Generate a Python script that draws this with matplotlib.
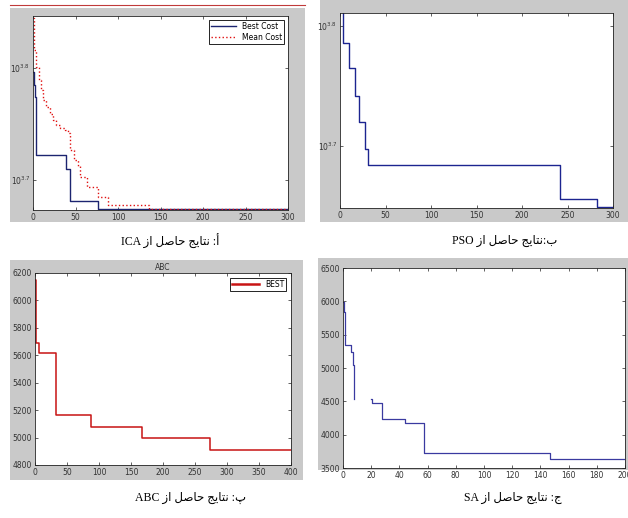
import matplotlib
matplotlib.use('Agg')
import matplotlib.pyplot as plt
from matplotlib.patches import Rectangle
from matplotlib.lines import Line2D
from matplotlib.ticker import NullLocator
import numpy as np

W, H = 628, 518

# ICA (log scale)
ica_it = [0, 1, 2, 3, 3.5, 39, 43, 77, 300]
ica_best = [6252, 6095, 5943, 5585, 5272, 5129, 4797, 4721, 4721]
ica_mean_it = [0, 1.2, 3.9, 7.1, 9.8, 11.8, 15.7, 19.6, 23.5, 27.5, 31.4, 37.3,
               41.2, 43.9, 47.8, 52.9, 54.9, 63.5, 77, 88, 137, 300]
ica_mean = [6981, 6541, 6322, 6152, 6026, 5902, 5821, 5741, 5662, 5610, 5572, 5553,
            5515, 5333, 5224, 5152, 5047, 4943, 4842, 4764, 4721, 4721]

# PSO (log scale)
pso_it = [2.5, 3.7, 10.2, 16.5, 20.5, 27.4, 30.4, 242.2, 282.5, 300]
pso_best = [6700, 6109, 5821, 5521, 5248, 4990, 4838, 4529, 4457, 4457]

# ABC
abc_it = [0, 1.6, 6.8, 32.8, 87.5, 166.7, 273.4, 400]
abc_best = [6150, 5690, 5620, 5165, 5075, 4995, 4912, 4912]

# SA (gap in the drawn line between ~8 and ~20)
sa_it = [0, 0.8, 1.3, 1.7, 6, 6.8, 7.6, 7.7, 19.6, 20.3, 28, 44, 57.3, 147, 200]
sa_best = [5990, 5840, 5465, 5345, 5240, 5040, 4540, np.nan, 4530, 4480, 4240, 4180,
           3720, 3630, 3630]

log_ticks = [10**3.7, 10**3.8]
log_labels = ['$10^{3.7}$', '$10^{3.8}$']

# captions, written in visual (left-to-right) order with joined letter forms
az = '\u0632\u0627'
hasel = '\uFEDE\uFEBB\uFE8E\uFEA3'
nataij = '\uFE9E\uFEF3\uFE8E\uFE98\uFEE7'
captions = [
    'ICA ' + az + ' ' + hasel + ' ' + nataij + ' :\u0623',
    'PSO ' + az + ' ' + hasel + ' ' + nataij + ':\u0628',
    'ABC ' + az + ' ' + hasel + ' ' + nataij + ' :\u067E',
    'SA ' + az + ' ' + hasel + ' ' + nataij + ' :\u062C',
]
caption_pos = [(170, 241), (505, 241), (191, 498), (513, 498)]

grey = '#c9c9c9'
fig = plt.figure(figsize=(W / 100, H / 100), dpi=100)
fig.patch.set_facecolor('white')


def px_rect(x0, y0, x1, y1):
    return [x0 / W, 1 - y1 / H, (x1 - x0) / W, (y1 - y0) / H]


def add_bg(x0, y0, x1, y1):
    l, b, w, h = px_rect(x0, y0, x1, y1)
    fig.patches.append(Rectangle((l, b), w, h, transform=fig.transFigure,
                                 facecolor=grey, edgecolor='none', zorder=-5))


def style(ax):
    ax.tick_params(direction='in', length=2.5, width=0.5, top=True, right=True,
                   labelsize=5.5, pad=2, colors='#333333')
    ax.tick_params(labelcolor='#333333', color='#222222')
    for s in ax.spines.values():
        s.set_linewidth(0.6)
        s.set_color('#222222')


add_bg(10, 8, 305, 222)
add_bg(320, 0, 628, 222)
add_bg(10, 260, 303, 480)
add_bg(318, 258, 628, 470)
fig.add_artist(Line2D([10 / W, 305 / W], [1 - 5 / H, 1 - 5 / H], color='#c03a3a',
                      lw=0.8, zorder=-4))

# ICA
ax1 = fig.add_axes(px_rect(33, 16, 288, 210))
ax1.plot(ica_it, ica_best, color='#1c2470', lw=1.0, drawstyle='steps-post', label='Best Cost')
ax1.plot(ica_mean_it, ica_mean, color='#e01010', lw=1.0, ls=':', drawstyle='steps-post',
         label='Mean Cost')
ax1.set_yscale('log')
ax1.set_xlim(0, 300)
ax1.set_ylim(4712, 7015)
ax1.set_xticks(range(0, 301, 50))
ax1.set_yticks(log_ticks)
ax1.set_yticklabels(log_labels)
ax1.yaxis.set_minor_locator(NullLocator())
style(ax1)
leg = ax1.legend(loc='upper right', fontsize=5.5, frameon=True, fancybox=False,
                 edgecolor='black', framealpha=1, handlelength=3.2, borderpad=0.3,
                 labelspacing=0.2, borderaxespad=0.5)
leg.get_frame().set_linewidth(0.6)

# PSO
ax2 = fig.add_axes(px_rect(340, 13, 613, 208))
ax2.plot(pso_it, pso_best, color='#1c2490', lw=1.0, drawstyle='steps-post')
ax2.set_yscale('log')
ax2.set_xlim(0, 300)
ax2.set_ylim(4452, 6471)
ax2.set_xticks(range(0, 301, 50))
ax2.set_yticks(log_ticks)
ax2.set_yticklabels(log_labels)
ax2.yaxis.set_minor_locator(NullLocator())
style(ax2)

# ABC
ax3 = fig.add_axes(px_rect(35, 273, 291, 465))
ax3.plot(abc_it, abc_best, color='#c81414', lw=1.1, drawstyle='steps-post', label='BEST')
ax3.set_xlim(0, 400)
ax3.set_ylim(4800, 6200)
ax3.set_xticks(range(0, 401, 50))
ax3.set_yticks(range(4800, 6201, 200))
ax3.set_title('ABC', fontsize=5.5, pad=2, color='#333333')
style(ax3)
leg = ax3.legend(loc='upper right', fontsize=5.5, frameon=True, fancybox=False,
                 edgecolor='black', framealpha=1, handlelength=3.5, borderpad=0.3,
                 borderaxespad=0.6)
leg.get_frame().set_linewidth(0.6)
for l in leg.get_lines():
    l.set_linewidth(1.8)

# SA
ax4 = fig.add_axes(px_rect(343, 268, 625, 468))
ax4.plot(sa_it, sa_best, color='#3a3aa0', lw=0.9, drawstyle='steps-post')
ax4.set_xlim(0, 200)
ax4.set_ylim(3500, 6500)
ax4.set_xticks(range(0, 201, 20))
ax4.set_yticks(range(3500, 6501, 500))
style(ax4)

for txt, (cx, cy) in zip(captions, caption_pos):
    fig.text(cx / W, 1 - cy / H, txt, ha='center', va='center', fontsize=8.5,
             family=['Liberation Serif', 'DejaVu Sans'], color='black')

fig.savefig('out.png', dpi=100)
